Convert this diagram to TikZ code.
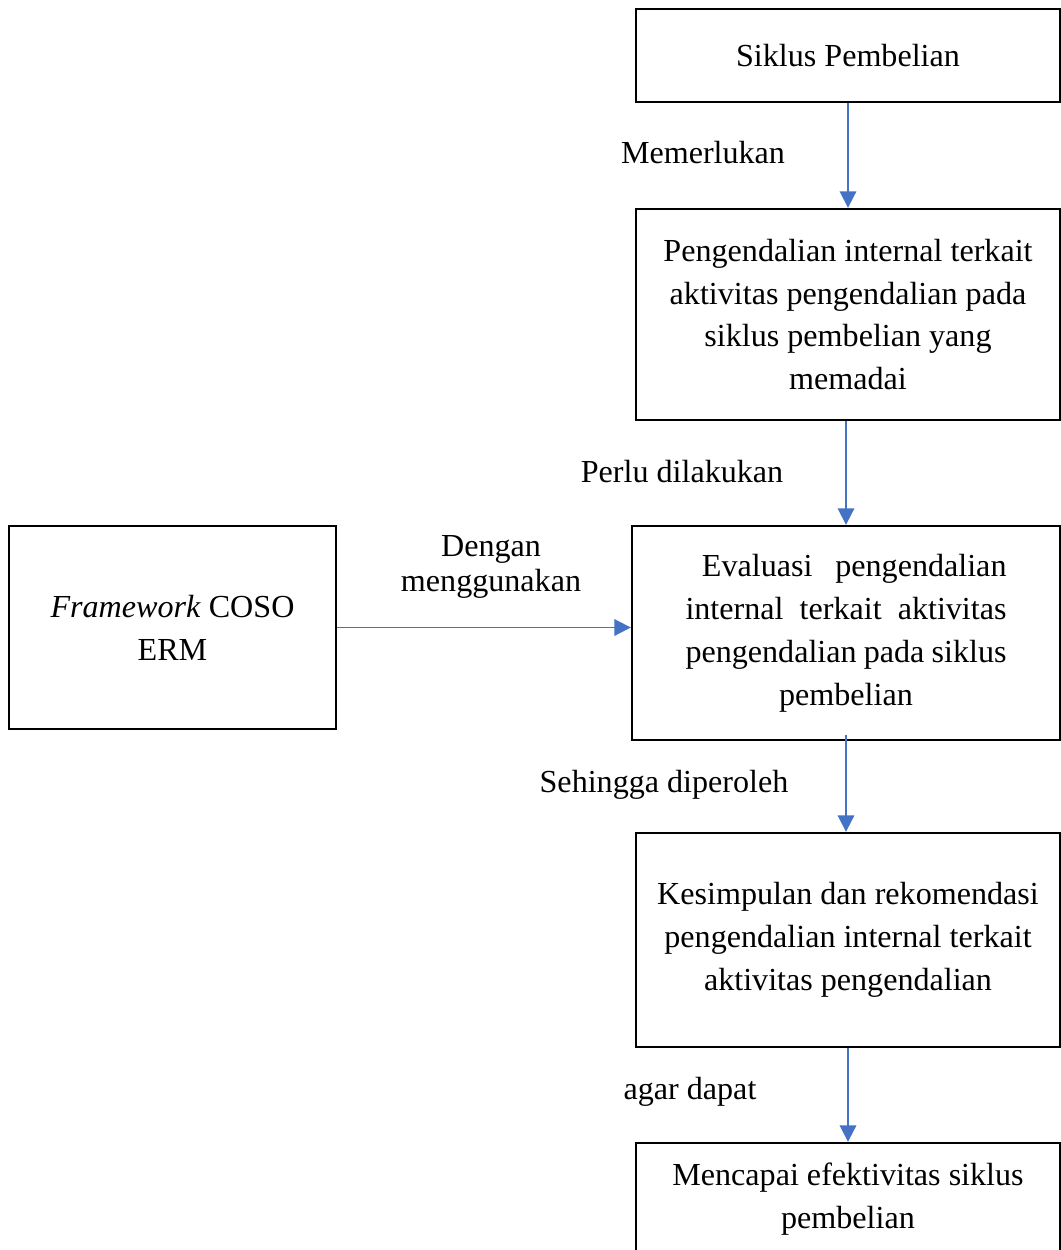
\documentclass[tikz,border=0pt]{standalone}
\usepackage{fontspec}
\setmainfont{Liberation Serif}
\usetikzlibrary{positioning,arrows.meta}
\definecolor{panah}{RGB}{68,114,196}
\newlength{\evalw}
\setlength{\evalw}{137pt}
\newcommand{\jline}[1]{\makebox[\evalw][s]{#1}}

\begin{document}
\begin{tikzpicture}
[x=0.015cm, y=-0.015cm,
    font=\fontsize{13.7}{18.3}\selectfont,
    >={Triangle[length=7pt,width=7pt]},
    box/.style={rectangle, draw=black, line width=1pt, align=center,
      inner sep=0pt},
    lbl/.style={align=center, inner sep=0pt,
      font=\fontsize{13.7}{15}\selectfont},
    panahbiru/.style={->, draw=panah, line width=0.8pt},
    ]
    \useasboundingbox (0,0) rectangle (1061,1250);
    \clip (0,0) rectangle (1061,1250);

    % kotak utama
    \node[box, minimum width=6.36cm, minimum height=1.395cm] (siklus) at (848,55.5) {Siklus Pembelian};
    \node[box, minimum width=6.36cm, minimum height=3.165cm] (kontrol) at (848,314.5)
      {Pengendalian internal terkait\\ aktivitas pengendalian pada\\ siklus pembelian yang\\ memadai};
    \node[box, minimum width=6.42cm, minimum height=3.21cm] (evaluasi) at (846,633)
      {\jline{\hspace*{7pt}Evaluasi pengendalian}\\ \jline{internal terkait aktivitas}\\
       \jline{pengendalian pada siklus}\\ pembelian};
    \node[box, minimum width=6.36cm, minimum height=3.21cm] (simpulan) at (848,940)
      {Kesimpulan dan rekomendasi\\ pengendalian internal terkait\\ aktivitas pengendalian};
    \node[box, minimum width=6.36cm, minimum height=1.68cm] (capai) at (848,1199)
      {Mencapai efektivitas siklus\\ pembelian};
    \node[box, minimum width=4.905cm, minimum height=3.045cm] (coso) at (172.5,627.5)
      {\textit{Framework} COSO\\ ERM};

    % panah
    \draw[panahbiru] (siklus.south) -- (kontrol.north);
    \draw[panahbiru] (kontrol.south -| evaluasi.north) -- (evaluasi.north);
    \draw[panahbiru] ([yshift=0.1cm]evaluasi.south) -- (evaluasi.south |- simpulan.north);
    \draw[panahbiru] (simpulan.south) -- (capai.north);
    \draw[panahbiru] (coso.east) -- (coso.east -| evaluasi.west);

    % keterangan
    \node[lbl] (memerlukan) at (703,153) {Memerlukan};
    \node[lbl] (perlu) at (682,472) {Perlu dilakukan};
    \node[lbl] (dengan) at (491,567) {Dengan\\ menggunakan};
    \node[lbl] (sehingga) at (664,785) {Sehingga diperoleh};
    \node[lbl] (agar) at (690,1092) {agar dapat};

\end{tikzpicture}
\end{document}
